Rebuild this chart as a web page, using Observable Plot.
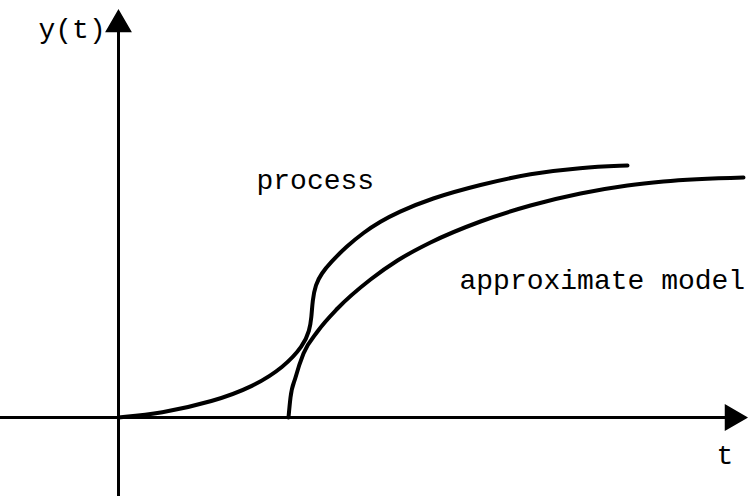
<!DOCTYPE html>
<html>
<head>
<meta charset="utf-8">
<script src="https://cdn.jsdelivr.net/npm/d3@7"></script>
<script src="https://cdn.jsdelivr.net/npm/@observablehq/plot@0.6"></script>
<style>
  html, body { margin: 0; padding: 0; background: #fff; }
  #chart svg { display: block; }
</style>
</head>
<body>
<div id="chart"></div>
<script>
// Step response of the process and of its approximate (dead time + first order) model
const processT = [0, 0.42, 0.95, 1.35, 1.65, 1.85, 1.91, 1.93, 1.94, 1.97, 2.03, 2.12, 2.28, 2.45, 2.62, 2.79, 3.12, 3.62, 4.12, 4.62, 5.09];
const processY = [0, 0.04, 0.16, 0.31, 0.50, 0.72, 0.87, 1.00, 1.17, 1.33, 1.44, 1.55, 1.71, 1.85, 1.96, 2.05, 2.19, 2.33, 2.44, 2.50, 2.52];

const modelT = [1.70, 1.72, 1.77, 1.85, 1.99, 2.19, 2.52, 2.79, 3.12, 3.62, 4.12, 4.62, 5.09, 5.45, 6.25];
const modelY = [0, 0.20, 0.40, 0.64, 0.86, 1.09, 1.38, 1.57, 1.75, 1.96, 2.12, 2.24, 2.32, 2.36, 2.40];

// Axis extents (the far ends carry the arrowheads)
const tAxis = [-1.18, 6.28];
const yAxis = [-0.79, 4.07];

// Text labels
const labelText = ["y(t)", "process", "approximate model", "t"];
const labelT    = [-0.80, 1.38, 3.41, 5.98];
const labelY    = [3.80, 2.29, 1.29, -0.46];

const processData = processT.map((t, i) => ({t, y: processY[i]}));
const modelData = modelT.map((t, i) => ({t, y: modelY[i]}));
const labels = labelText.map((text, i) => ({text, t: labelT[i], y: labelY[i]}));

const font = "'Liberation Mono', 'Courier New', monospace";

const chart = Plot.plot({
  width: 756,
  height: 499,
  margin: 0,
  style: {background: "#fff", color: "#000"},
  x: {domain: [-1.18, 6.38], axis: null},
  y: {domain: [-0.82, 4.17], axis: null},
  marks: [
    // axes
    Plot.ruleY([0], {x1: tAxis[0], x2: tAxis[1] - 0.2, stroke: "#000", strokeWidth: 3}),
    Plot.ruleX([0], {y1: yAxis[0], y2: yAxis[1] - 0.2, stroke: "#000", strokeWidth: 3}),
    Plot.dot([{t: tAxis[1], y: 0}], {x: "t", y: "y", symbol: "triangle", r: 9, rotate: 90, dx: -14, fill: "#000", stroke: "#000", strokeWidth: 1.5}),
    Plot.dot([{t: 0, y: yAxis[1]}], {x: "t", y: "y", symbol: "triangle", r: 9, dy: 14, fill: "#000", stroke: "#000", strokeWidth: 1.5}),
    // curves
    Plot.line(processData, {x: "t", y: "y", curve: "basis", stroke: "#000", strokeWidth: 4}),
    Plot.line(modelData, {x: "t", y: "y", curve: "monotone-x", stroke: "#000", strokeWidth: 4}),
    // labels
    Plot.text(labels, {x: "t", y: "y", text: "text", textAnchor: "start", lineAnchor: "bottom", fontSize: 28, fontFamily: font, fill: "#000"})
  ]
});

document.getElementById("chart").appendChild(chart);
</script>
</body>
</html>
